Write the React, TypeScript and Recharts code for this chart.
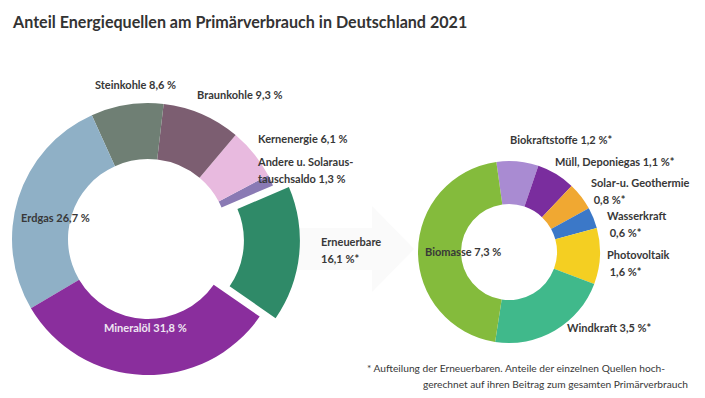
import { PieChart, Pie, Cell } from "recharts";

// Primärverbrauch 2021, Anteile in %
const MIX_NAMES = [
  "Erneuerbare",
  "Andere u. Solaraustauschsaldo",
  "Kernenergie",
  "Braunkohle",
  "Steinkohle",
  "Erdgas",
  "Mineralöl",
];
const MIX_VALUES = [16.1, 1.3, 6.1, 9.3, 8.6, 26.7, 31.8];
const MIX_LABELS = [
  ["Erneuerbare", "16,1 %*"],
  ["Andere u. Solaraus-", "tauschsaldo 1,3 %"],
  ["Kernenergie 6,1 %"],
  ["Braunkohle 9,3 %"],
  ["Steinkohle 8,6 %"],
  ["Erdgas 26,7 %"],
  ["Mineralöl 31,8 %"],
];

// Aufteilung der Erneuerbaren
const RE_NAMES = [
  "Biokraftstoffe",
  "Müll, Deponiegas",
  "Solar- u. Geothermie",
  "Wasserkraft",
  "Photovoltaik",
  "Windkraft",
  "Biomasse",
];
const RE_VALUES = [1.2, 1.1, 0.8, 0.6, 1.6, 3.5, 7.3];
const RE_LABELS = [
  ["Biokraftstoffe 1,2 %*"],
  ["Müll, Deponiegas 1,1 %*"],
  ["Solar-u. Geothermie", " 0,8 %*"],
  ["Wasserkraft", " 0,6 %*"],
  ["Photovoltaik", " 1,6 %*"],
  ["Windkraft 3,5 %*"],
  ["Biomasse 7,3 %"],
];

const MIX_COLORS = ["#2f8a68", "#8a7ab4", "#e8badf", "#7c5e71", "#6f7f74", "#8fb0c6", "#8a2e9d"];
const RE_COLORS = ["#a98bd2", "#7a2d9e", "#f0a832", "#3b78c8", "#f4cf22", "#40b98b", "#84bb3c"];

const mixData = MIX_NAMES.map((name, i) => ({ name, value: MIX_VALUES[i] }));
const reData = RE_NAMES.map((name, i) => ({ name, value: RE_VALUES[i] }));

// layout
const W = 705;
const H = 398;
const FONT = "Lato, 'DejaVu Sans', sans-serif";
const TEXT = "#383838";
const L_CX = 148;
const L_CY = 239;
const L_START = -34.8;
const R_CX = 509;
const R_CY = 252;
const R_START = 98;
const EXPLODE = 16;

// label offsets from the pie centre
const MIX_LABEL_POS = [
  null,
  { dx: 110, dy: -73 },
  { dx: 110, dy: -96 },
  { dx: 49, dy: -140 },
  { dx: -53, dy: -150 },
  { dx: -127, dy: -17 },
  { dx: -44, dy: 93 },
];
const RE_LABEL_POS = [
  { dx: 1, dy: -108 },
  { dx: 46, dy: -86 },
  { dx: 82, dy: -65 },
  { dx: 98, dy: -32 },
  { dx: 98, dy: 7 },
  { dx: 58, dy: 80 },
  { dx: -84, dy: 4 },
];

const total = MIX_VALUES.reduce((a, b) => a + b, 0);
const reMid = ((L_START + (MIX_VALUES[0] / 2 / total) * 360) * Math.PI) / 180;
const EX_CX = L_CX + EXPLODE * Math.cos(reMid);
const EX_CY = L_CY - EXPLODE * Math.sin(reMid);

function lines(x: number, y: number, rows: string[], fill = TEXT) {
  return (
    <text x={x} y={y} fill={fill} fontFamily={FONT} fontSize={11} fontWeight={700}>
      {rows.map((r, i) => (
        <tspan key={i} x={x} dy={i === 0 ? 0 : 16.5} style={{ whiteSpace: "pre" }}>
          {r}
        </tspan>
      ))}
    </text>
  );
}

const mixLabel = (props: any) => {
  const i = props.index;
  const pos = MIX_LABEL_POS[i];
  if (!pos) return null;
  return lines(props.cx + pos.dx, props.cy + pos.dy, MIX_LABELS[i], i === 6 ? "#efe6f2" : TEXT);
};

const reLabel = (props: any) => {
  const i = props.index;
  const pos = RE_LABEL_POS[i];
  return lines(props.cx + pos.dx, props.cy + pos.dy, RE_LABELS[i]);
};

export default function App() {
  return (
    <div style={{ position: "absolute", left: 0, top: 0, width: W, height: H, background: "#fff" }}>
      <PieChart width={W} height={H} margin={{ top: 0, right: 0, bottom: 0, left: 0 }}>
        <text x={13} y={28} fill="#333" fontFamily={FONT} fontSize={16.1} fontWeight={700}>
          Anteil Energiequellen am Primärverbrauch in Deutschland 2021
        </text>
        <Pie
          data={mixData}
          dataKey="value"
          nameKey="name"
          cx={L_CX}
          cy={L_CY}
          innerRadius={80}
          outerRadius={136}
          startAngle={L_START}
          endAngle={L_START + 360}
          stroke="none"
          label={mixLabel}
          labelLine={false}
          isAnimationActive={false}
        >
          {mixData.map((d, i) => (
            <Cell key={d.name} fill={i === 0 ? "transparent" : MIX_COLORS[i]} />
          ))}
        </Pie>
        <Pie
          data={mixData}
          dataKey="value"
          nameKey="name"
          cx={EX_CX}
          cy={EX_CY}
          innerRadius={80}
          outerRadius={136}
          startAngle={L_START}
          endAngle={L_START + 360}
          stroke="none"
          isAnimationActive={false}
        >
          {mixData.map((d, i) => (
            <Cell key={d.name} fill={i === 0 ? MIX_COLORS[0] : "transparent"} />
          ))}
        </Pie>
        <Pie
          data={reData}
          dataKey="value"
          nameKey="name"
          cx={R_CX}
          cy={R_CY}
          innerRadius={48}
          outerRadius={91}
          startAngle={R_START}
          endAngle={R_START - 360}
          stroke="none"
          label={reLabel}
          labelLine={false}
          isAnimationActive={false}
        >
          {reData.map((d, i) => (
            <Cell key={d.name} fill={RE_COLORS[i]} />
          ))}
        </Pie>
        <g>
          <polygon
            points="283,228 372,228 372,206 414,249 372,292 372,270 283,270"
            fill="#fafafa"
          />
          {lines(L_CX + 173, L_CY + 7, MIX_LABELS[0])}
        </g>
        <text x={367} y={372} fill={TEXT} fontFamily={FONT} fontSize={10.2}>
          * Aufteilung der Erneuerbaren. Anteile der einzelnen Quellen hoch-
        </text>
        <text x={688} y={388} textAnchor="end" fill={TEXT} fontFamily={FONT} fontSize={10.2}>
          gerechnet auf ihren Beitrag zum gesamten Primärverbrauch
        </text>
      </PieChart>
    </div>
  );
}
